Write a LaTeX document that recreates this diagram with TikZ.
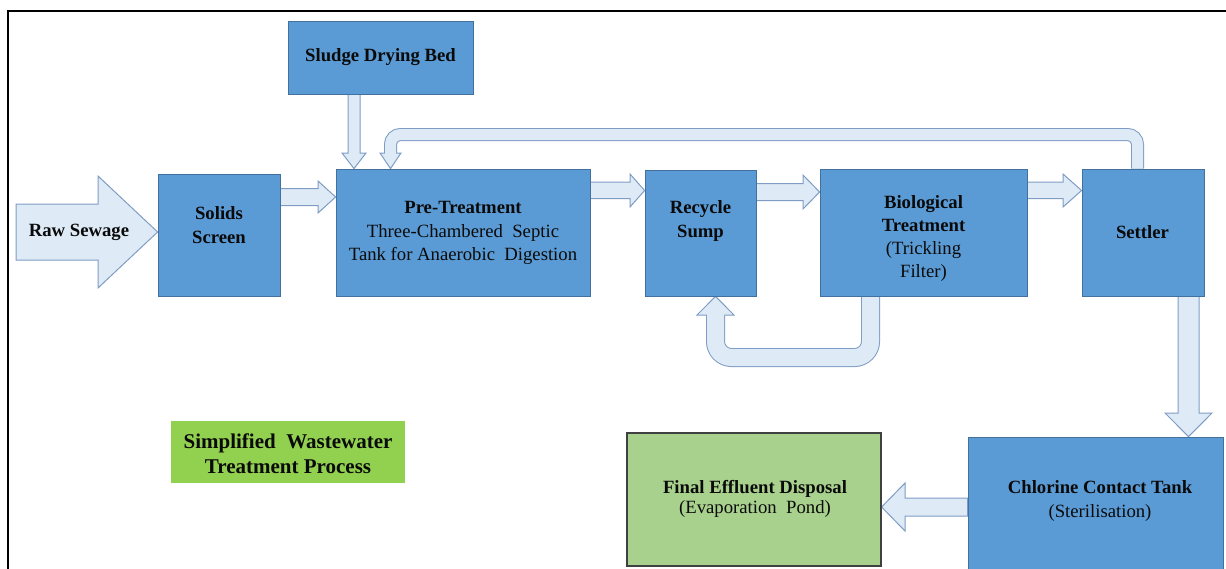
\documentclass[tikz,border=0pt]{standalone}
\usepackage{fontspec}
\setmainfont{Liberation Serif}
\definecolor{boxblue}{HTML}{5B9BD5}
\definecolor{boxline}{HTML}{41719C}
\definecolor{arrfill}{HTML}{DEEBF7}
\definecolor{arrline}{HTML}{7F9CC4}
\definecolor{titlegreen}{HTML}{92D050}
\definecolor{finalgreen}{HTML}{A9D18E}
\definecolor{finalline}{HTML}{404040}
\definecolor{txtcol}{HTML}{0A0A0A}
\pgfdeclarelayer{bg}
\pgfsetlayers{bg,main}
\tikzset{
  procbox/.style={rectangle, draw=boxline, fill=boxblue, line width=0.8pt, inner sep=0pt},
  lbl/.style={align=center, text=txtcol, font=\fontsize{18.7}{23.5}\selectfont, inner sep=0pt},
  blk/.style={fill=arrfill, draw=arrline, line width=1pt, line join=miter},
}
\begin{document}
\begin{tikzpicture}[x=1pt,y=-1pt]
\useasboundingbox (0,0) rectangle (1226,568);
\clip (0,0) rectangle (1226,568);
% frame
\draw[line width=1.8pt] (8,600) -- (8,11) -- (1240,11);

% boxes
\node[procbox, minimum width=185, minimum height=73] (sludge) at (380.5,57.5) {};
\node[procbox, minimum width=122, minimum height=122] (solids) at (219,235) {};
\node[procbox, minimum width=254, minimum height=127] (pre) at (463,232.5) {};
\node[procbox, minimum width=111, minimum height=126] (recycle) at (700.5,233) {};
\node[procbox, minimum width=207, minimum height=127] (bio) at (923.5,232.5) {};
\node[procbox, minimum width=122, minimum height=127] (settler) at (1143,232.5) {};
\node[procbox, minimum width=255, minimum height=163] (chlor) at (1095.5,518.5) {};
\node[rectangle, draw=finalline, fill=finalgreen, line width=1.2pt, inner sep=0pt,
      minimum width=254, minimum height=133] (final) at (754,499.5) {};
\node[rectangle, fill=titlegreen, inner sep=0pt, minimum width=234, minimum height=62] (title) at (288,452) {};

% labels
\node[lbl, font=\fontsize{18.7}{23.5}\selectfont\bfseries] (sludgeT) at (380.5,57) {Sludge Drying Bed};
\node[lbl, font=\fontsize{18.7}{23.5}\selectfont\bfseries] (rawT) at (79,232) {Raw Sewage};
\node[lbl, font=\fontsize{18.7}{24}\selectfont\bfseries] (solidsT) at (219,225) {Solids\\Screen};
\node[lbl] (preT) at (463,233) {\textbf{Pre-Treatment}\\Three-Chambered\ \ Septic\\Tank for Anaerobic\ \ Digestion};
\node[lbl, font=\fontsize{18.7}{23.5}\selectfont\bfseries] (recycleT) at (700.5,221) {Recycle\\Sump};
\node[lbl, font=\fontsize{18.7}{23}\selectfont] (bioT) at (923.5,238) {\textbf{Biological}\\\textbf{Treatment}\\(Trickling\\Filter)};
\node[lbl, font=\fontsize{18.7}{24}\selectfont\bfseries] (settlerT) at (1142.5,232) {Settler};
\node[lbl, font=\fontsize{18.7}{24}\selectfont] (chlorT) at (1100,501) {\textbf{Chlorine Contact Tank}\\(Sterilisation)};
\node[lbl, font=\fontsize{18.7}{20}\selectfont] (finalT) at (755,499) {\textbf{Final Effluent Disposal}\\(Evaporation\ \ Pond)};
\node[lbl, font=\fontsize{21}{25}\selectfont\bfseries] (titleT) at (288,454) {Simplified\ \ Wastewater\\Treatment Process};

\begin{pgfonlayer}{bg}
% raw sewage
\draw[blk] (16,204) -- (98,204) -- (98,176) -- (solids.west |- 0,232) -- (98,288) -- (98,260) -- (16,260) -- cycle;
% solids -> pre
\draw[blk] (solids.east |- 0,188.5) -- (318,188.5) -- (318,181) -- (pre.west |- 0,197) -- (318,213) -- (318,205.5) -- (solids.east |- 0,205.5) -- cycle;
% pre -> recycle
\draw[blk] (pre.east |- 0,182) -- (630,182) -- (630,174) -- (recycle.west |- 0,190.5) -- (630,207) -- (630,198.5) -- (pre.east |- 0,198.5) -- cycle;
% recycle -> bio
\draw[blk] (recycle.east |- 0,183.5) -- (803,183.5) -- (803,175) -- (bio.west |- 0,192) -- (803,209) -- (803,200.5) -- (recycle.east |- 0,200.5) -- cycle;
% bio -> settler
\draw[blk] (bio.east |- 0,182) -- (1063,182) -- (1063,174) -- (settler.west |- 0,190.5) -- (1063,207) -- (1063,198.5) -- (bio.east |- 0,198.5) -- cycle;
% sludge -> pre
\draw[blk] (348,0 |- sludge.south) -- (348,153) -- (342,153) -- (354,0 |- pre.north) -- (366,153) -- (360,153) -- (360,0 |- sludge.south) -- cycle;
% settler -> chlorine
\draw[blk] (1178,0 |- settler.south) -- (1178,413) -- (1165,413) -- (1188.5,0 |- chlor.north) -- (1212,413) -- (1199,413) -- (1199,0 |- settler.south) -- cycle;
% chlorine -> final
\draw[blk] (chlor.west |- 0,498) -- (905,498) -- (905,483) -- (final.east |- 0,507) -- (905,531) -- (905,516) -- (chlor.west |- 0,516) -- cycle;

% settler -> pre loop
\draw[arrline, line width=13pt, rounded corners=10pt] (1137.5,0 |- settler.north) -- (1137.5,134.5) -- (390.5,134.5) -- (390.5,153);
\draw[blk] (380,153) -- (401,153) -- (390.5,0 |- pre.north) -- cycle;
\draw[arrfill, line width=11pt, rounded corners=10pt] (1137.5,0 |- settler.north) -- (1137.5,134.5) -- (390.5,134.5) -- (390.5,154);

% bio -> recycle loop
\draw[arrline, line width=19pt, rounded corners=16pt] (870.5,0 |- bio.south) -- (870.5,357.5) -- (715.5,357.5) -- (715.5,315);
\draw[blk] (697,315) -- (734,315) -- (715.5,0 |- recycle.south) -- cycle;
\draw[arrfill, line width=17pt, rounded corners=16pt] (870.5,0 |- bio.south) -- (870.5,357.5) -- (715.5,357.5) -- (715.5,314);
\end{pgfonlayer}
\end{tikzpicture}
\end{document}
